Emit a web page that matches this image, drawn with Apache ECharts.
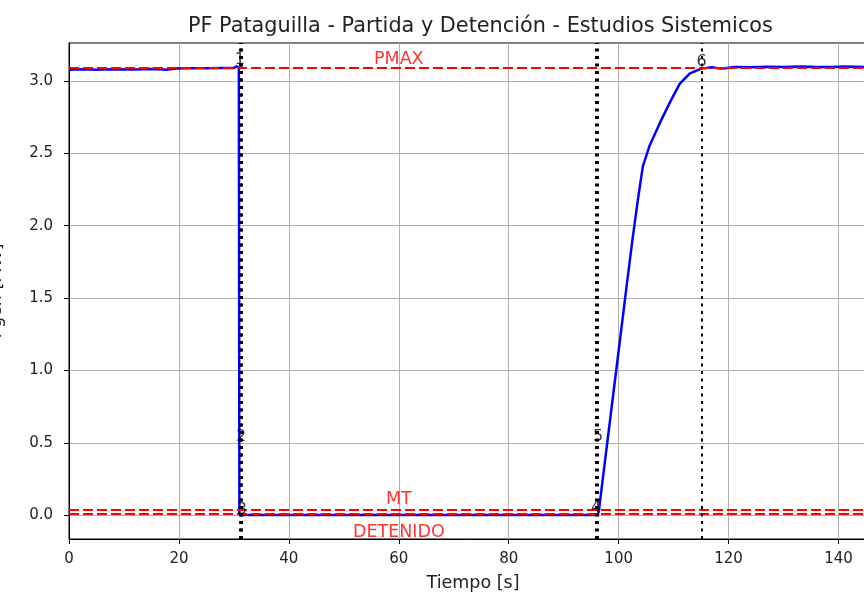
<!DOCTYPE html>
<html>
<head>
<meta charset="utf-8">
<script src="https://cdn.jsdelivr.net/npm/echarts@6/dist/echarts.min.js"></script>
<style>
  html, body { margin: 0; padding: 0; background: #fff; }
  #chart { width: 864px; height: 593px; }
</style>
</head>
<body>
<div id="chart"></div>
<script>
const tiempo = [0, 2, 5, 8, 12, 15, 18, 19.5, 22, 25, 28, 30, 30.5, 30.9, 31.0,
  35, 50, 70, 90, 96.2, 96.4, 97.5, 99, 100.5, 101.5, 102.5, 103.5, 104.4, 105.6,
  107.5, 109.3, 111.1, 112.9, 115, 117, 118.5, 119.5, 121, 124, 127, 130, 133,
  136, 139, 141, 143, 145, 147];
const potencia = [3.078, 3.081, 3.077, 3.080, 3.079, 3.082, 3.078, 3.086, 3.088,
  3.087, 3.089, 3.090, 3.100, 3.092, 0.0,
  0.0, 0.0, 0.0, 0.0, 0.0, 0.03, 0.37, 0.83, 1.29, 1.6, 1.9, 2.18, 2.41, 2.55,
  2.71, 2.85, 2.98, 3.05, 3.085, 3.095, 3.085, 3.088, 3.097, 3.095, 3.098, 3.096,
  3.099, 3.097, 3.096, 3.100, 3.098, 3.096, 3.097];

// limites de referencia
const limites = ['PMAX', 'MT', 'DETENIDO'];
const limitesValor = [3.089, 0.035, 0.005];

// eventos 1..6
const eventos = ['1', '2', '3', '4', '5', '6'];
const eventosT = [31.1, 31.3, 31.45, 95.9, 96.25, 115.1];
const eventosP = [3.145, 0.54, 0.035, 0.048, 0.54, 3.13];

const xTicks = [0, 20, 40, 60, 80, 100, 120, 140];
const yTicks = [0, 0.5, 1.0, 1.5, 2.0, 2.5, 3.0];

const FONT = 'DejaVu Sans';
const chart = echarts.init(document.getElementById('chart'));

const serieP = tiempo.map((t, i) => [t, potencia[i]]);

chart.setOption({
  animation: false,
  title: {
    text: 'PF Pataguilla - Partida y Detención - Estudios Sistemicos',
    left: 183,
    top: 11,
    textStyle: { fontFamily: FONT, fontSize: 20.8, fontWeight: 'normal', color: '#222' }
  },
  grid: {
    left: 69, top: 43, bottom: 54, right: -13,
    outerBoundsMode: 'none', containLabel: false,
    show: true, borderColor: '#000', borderWidth: 1
  },
  xAxis: {
    type: 'value', min: 0, max: 147,
    name: 'Tiempo [s]', nameLocation: 'middle', nameGap: 35,
    nameTextStyle: { fontFamily: FONT, fontSize: 17.5, color: '#222' },
    axisLine: { onZero: false, lineStyle: { color: '#000', width: 1 } },
    axisTick: { show: true, length: 5, lineStyle: { color: '#000' }, customValues: xTicks },
    axisLabel: { fontFamily: FONT, fontSize: 15, color: '#222', margin: 13, customValues: xTicks },
    splitLine: { show: true, lineStyle: { color: '#b0b0b0', width: 1 } }
  },
  yAxis: {
    type: 'value', min: -0.165, max: 3.262,
    // la etiqueta queda casi fuera de la figura, como en el original
    name: 'Pgen [MW]', nameLocation: 'middle', nameRotate: 90, nameGap: 64,
    nameTextStyle: { fontFamily: FONT, fontSize: 17.5, color: '#222' },
    axisLine: { show: true, onZero: false, lineStyle: { color: '#000', width: 1 } },
    axisTick: { show: true, length: 5, lineStyle: { color: '#000' }, customValues: yTicks },
    axisLabel: {
      fontFamily: FONT, fontSize: 15, color: '#222', margin: 16,
      customValues: yTicks, formatter: v => v.toFixed(1)
    },
    splitLine: { show: true, lineStyle: { color: '#b0b0b0', width: 1 } }
  },
  series: [
    {
      type: 'line',
      data: serieP,
      showSymbol: false,
      lineStyle: { color: '#0000ff', width: 2.5 },
      z: 2
    },
    {
      // lineas horizontales de limites
      type: 'line',
      data: [],
      z: 4,
      markLine: {
        silent: true, symbol: 'none', label: { show: false },
        lineStyle: { color: '#ff0000', width: 2, type: [10, 4] },
        data: limitesValor.map(v => ({ yAxis: v }))
      }
    },
    {
      // lineas verticales de eventos
      type: 'line',
      data: [],
      z: 5,
      markLine: {
        silent: true, symbol: 'none', label: { show: false },
        lineStyle: { color: '#000', width: 2, type: [3, 4.5] },
        data: eventosT.map(t => ({ xAxis: t }))
      }
    },
    {
      // textos de limites
      type: 'scatter',
      symbolSize: 0,
      z: 6,
      data: limites.map((n, i) => ({
        value: [60, limitesValor[i]],
        label: {
          show: true, formatter: n,
          position: n === 'DETENIDO' ? 'bottom' : 'top',
          distance: n === 'DETENIDO' ? 9 : (n === 'MT' ? 2 : 0),
          fontFamily: FONT, fontSize: 17.5, color: '#ff0000'
        }
      }))
    },
    {
      // numeros de eventos
      type: 'scatter',
      symbolSize: 0,
      z: 7,
      data: eventos.map((n, i) => ({
        value: [eventosT[i], eventosP[i]],
        label: {
          show: true, formatter: n, position: [0, 0],
          align: 'center', verticalAlign: 'middle',
          fontFamily: FONT, fontSize: 16, color: '#000'
        }
      }))
    }
  ]
});
</script>
</body>
</html>
